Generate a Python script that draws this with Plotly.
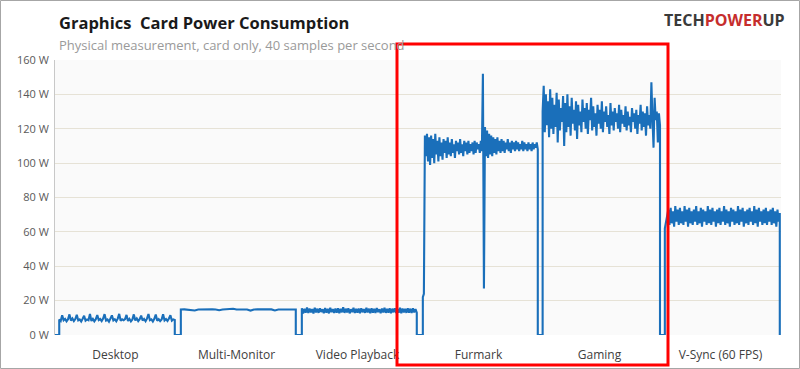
import numpy as np
import plotly.graph_objects as go

# ---------------- data ----------------
categories = ["Desktop", "Multi-Monitor", "Video Playback", "Furmark", "Gaming", "V-Sync (60 FPS)"]
y_ticks = [0, 20, 40, 60, 80, 100, 120, 140, 160]
y_tick_labels = [f"{v} W" for v in y_ticks]

# time spans (in category units) where each test is running; power is 0 W between
seg_spans = [(0.035, 0.99), (1.04, 1.99), (2.04, 2.99), (3.04, 3.99), (4.03, 5.0), (5.04, 5.99)]

desktop_w = [9.0, 8.2, 11.5, 8.6, 9.4, 8.0, 9.2, 12.0, 8.4, 9.6, 8.1, 9.3, 11.8, 8.5, 9.1, 7.9, 9.5, 11.2,
             8.3, 9.0, 8.6, 12.2, 8.2, 9.4, 8.0, 9.2, 11.6, 8.7, 9.3, 8.1, 9.6, 12.1, 8.4, 9.0, 7.8, 9.4,
             11.4, 8.5, 9.2, 8.0, 9.5, 12.3, 8.3, 9.1, 8.6, 9.3, 11.7, 8.2, 9.4, 7.9, 9.0, 12.0, 8.5, 9.6,
             8.1, 9.2, 11.3, 8.4, 9.3, 8.0, 9.5, 12.2, 8.6, 9.1, 7.9, 9.4, 11.9, 8.3, 9.2, 8.1, 9.0, 12.1,
             8.5, 9.3, 8.2, 9.6, 11.5, 8.4, 9.1, 8.8]

multi_monitor_w = [14.8, 14.9, 14.7, 14.8, 14.3, 14.8, 14.9, 14.8, 14.7, 14.9, 14.8, 14.4, 14.8, 14.9,
                   14.8, 15.3, 14.8, 14.7, 14.9, 14.8, 14.2, 14.8, 14.9, 14.8, 14.7, 14.8, 14.9, 14.3,
                   14.8, 14.8, 14.9, 14.7, 14.8, 14.8]

video_w = [15.6, 12.6, 15.2, 13.0, 16.0, 12.8, 15.4, 13.2, 15.1, 12.5, 15.8, 13.1, 15.3, 12.9, 15.5,
           13.4, 15.0, 12.7, 15.7, 13.0, 15.2, 12.6, 15.9, 13.3, 15.1, 12.8, 15.4, 13.0, 15.6, 12.7,
           15.2, 13.2, 16.1, 12.9, 15.3, 13.1, 15.5, 12.6, 15.0, 13.3, 15.8, 12.8, 15.2, 13.0, 15.4,
           12.7, 15.6, 13.2, 15.1, 12.9, 15.9, 13.1, 15.3, 12.6, 15.5, 13.0, 15.2, 12.8, 15.7, 13.3,
           15.0, 12.7, 15.4, 13.1, 15.8, 12.9, 15.2, 13.0, 15.5, 12.6, 15.3, 13.2, 15.6, 12.8, 15.1,
           13.0, 15.9, 12.7, 15.4, 13.1, 15.2, 12.9, 15.6, 13.0, 15.3, 12.8, 15.5, 13.2, 15.1, 13.0]

furmark_w = [22, 24, 116, 104, 117, 101, 115, 99, 116, 103, 114, 100, 117, 105, 113, 101, 115, 104, 112,
             102, 114, 106, 113, 103, 115, 105, 112, 104, 114, 106, 111, 103, 113, 107, 112, 105, 114,
             106, 111, 104, 113, 107, 112, 105, 113, 106, 111, 107, 112, 105, 113, 106, 112, 108, 111,
             106, 113, 107, 152, 27, 121, 104, 119, 103, 117, 105, 116, 104, 115, 106, 114, 105, 115,
             107, 113, 106, 114, 107, 113, 106, 112, 108, 114, 107, 112, 106, 113, 108, 112, 107, 113,
             108, 112, 107, 111, 108, 113, 107, 112, 108, 111, 107, 112, 108, 111, 107, 112, 108, 111,
             109, 112, 108]

gaming_w = [130, 145, 118, 140, 122, 136, 115, 143, 120, 138, 117, 134, 121, 141, 112, 137, 119, 132,
            124, 139, 110, 135, 118, 140, 121, 133, 116, 138, 123, 131, 119, 136, 114, 134, 122, 130,
            118, 137, 124, 132, 120, 135, 117, 131, 125, 138, 119, 133, 121, 129, 116, 134, 123, 131,
            120, 136, 118, 130, 124, 133, 121, 128, 117, 135, 122, 130, 119, 132, 124, 129, 120, 134,
            118, 131, 123, 128, 121, 133, 119, 130, 122, 127, 118, 132, 124, 129, 120, 131, 117, 128,
            123, 134, 119, 130, 121, 129, 116, 133, 122, 128, 120, 147, 126, 109, 138, 125, 130, 112,
            129, 122]

vsync_w = [62, 66, 70, 73, 64, 74, 65, 72, 63, 75, 66, 73, 64, 74, 65, 72, 64, 75, 66, 73, 63, 74, 65,
           72, 64, 73, 66, 75, 64, 72, 65, 74, 63, 73, 66, 72, 64, 75, 65, 73, 64, 74, 66, 72, 63, 73,
           65, 74, 64, 72, 66, 75, 64, 73, 65, 72, 63, 74, 66, 73, 64, 72, 65, 75, 64, 73, 66, 74, 63,
           72, 65, 73, 64, 74, 66, 72, 64, 75, 65, 73, 63, 74, 66, 72, 64, 73, 65, 74, 64, 72, 66, 73,
           64, 74, 65, 72, 63, 73, 66, 71]

segments = [desktop_w, multi_monitor_w, video_w, furmark_w, gaming_w, vsync_w]

# ---------------- build trace ----------------
xs, ys = [0.0], [0.0]
for (s, e), vals in zip(seg_spans, segments):
    xs.append(s); ys.append(0.0)
    xs.extend(np.linspace(s, e, len(vals)).tolist()); ys.extend(vals)
    xs.append(e); ys.append(0.0)

line_color = "#1a6fba"

fig = go.Figure()
fig.add_trace(go.Scatter(x=xs, y=ys, mode="lines",
                         line=dict(color=line_color, width=2.1), hoverinfo="skip",
                         showlegend=False))

W, H = 800, 369
L, R, T, B = 55, 19, 60, 34
pw, ph = W - L - R, H - T - B

def px(xp):
    return (xp - L) / pw

def py(yp):
    return (H - B - yp) / ph

fig.update_layout(
    width=W, height=H,
    margin=dict(l=L, r=R, t=T, b=B, autoexpand=False),
    paper_bgcolor="white",
    plot_bgcolor="#fafafa",
    font=dict(family="Open Sans, Noto Sans, sans-serif", color="#404040"),
    xaxis=dict(range=[0, 6], tickmode="array", automargin=False,
               tickvals=[i + 0.5 for i in range(len(categories))],
               ticktext=categories, showgrid=False, zeroline=False,
               showline=False, ticks="outside", ticklen=9, tickcolor="rgba(0,0,0,0)",
               tickfont=dict(size=12, color="#404040")),
    yaxis=dict(range=[0, 160], tickmode="array", tickvals=y_ticks, ticktext=y_tick_labels,
               automargin=False,
               showgrid=True, gridcolor="#e6e2d6", gridwidth=1, zeroline=False,
               showline=True, linecolor="#c8c8c8", linewidth=1,
               ticks="outside", ticklen=3, tickcolor="rgba(0,0,0,0)",
               tickfont=dict(size=11, color="#595959")),
)

# title, subtitle, logo
fig.add_annotation(text="<b>Graphics  Card Power Consumption</b>", xref="paper", yref="paper",
                   x=px(57), y=py(22), xanchor="left", yanchor="middle", showarrow=False,
                   font=dict(size=16.5, color="#1a1a1a", family="Open Sans, sans-serif"))
fig.add_annotation(text="Physical measurement, card only, 40 samples per second", xref="paper",
                   yref="paper", x=px(57), y=py(45), xanchor="left", yanchor="middle",
                   showarrow=False, font=dict(size=13, color="#9a9a9a", family="Open Sans, sans-serif"))
fig.add_annotation(text="<b>TECH<span style='color:#c62d2d'>POWER</span>UP</b>", xref="paper",
                   yref="paper", x=px(787), y=py(20), xanchor="right", yanchor="middle",
                   showarrow=False, font=dict(size=16, color="#3a3a3a", family="Open Sans, sans-serif"))

# outer border and red highlight box
fig.add_shape(type="rect", xref="paper", yref="paper", x0=px(0.5), x1=px(799.5),
              y0=py(368.5), y1=py(0.5), line=dict(color="#a6a6a6", width=1), layer="above")
fig.add_shape(type="rect", xref="paper", yref="paper", x0=px(397), x1=px(668),
              y0=py(365), y1=py(44), line=dict(color="#ff0000", width=3), layer="above")

fig.write_html("out.html", config={"displayModeBar": False},
               post_script="document.body.style.margin='0px';")
